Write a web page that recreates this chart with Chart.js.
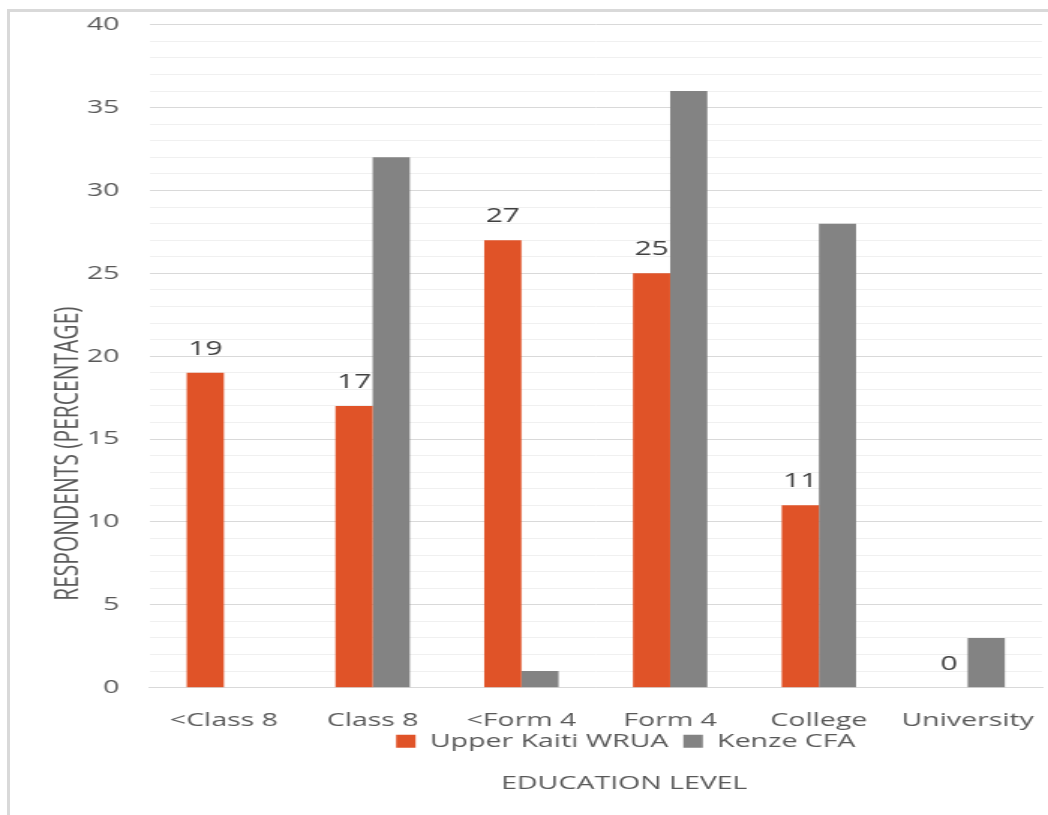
<!DOCTYPE html>
<html>
<head>
<meta charset="utf-8">
<title>Education level</title>
<script src="https://cdn.jsdelivr.net/npm/chart.js@4/dist/chart.umd.min.js"></script>
<style>
    html, body { margin: 0; padding: 0; background: #fff; overflow: hidden; }
    /* the reference picture is stretched sideways, so the canvas is too */
    #wrap { position: absolute; left: 0; top: 0; width: 699px; height: 815px;
            transform: scale(1.4993, 1); transform-origin: 0 0; }
    #chart { width: 699px; height: 815px; }
    #frame { position: absolute; left: 7px; top: 9px; width: 1041px; height: 806px;
             border-top: 3px solid #d9d9d9; border-left: 3px solid #d9d9d9; pointer-events: none; }
</style>
</head>
<body>
<div id="wrap"><canvas id="chart" width="699" height="815"></canvas></div>
<div id="frame"></div>
<script>
var categories = ['<Class 8', 'Class 8', '<Form 4', 'Form 4', 'College', 'University'];
var upperKaiti = [19, 17, 27, 25, 11, 0];
var kenzeCfa = [0, 32, 1, 36, 28, 3];
var seriesNames = ['Upper Kaiti WRUA', 'Kenze CFA'];
var yMin = 0, yMax = 40, yMajorStep = 5, yMinorStep = 1;
var yTitle = 'RESPONDENTS (PERCENTAGE)';
var xTitle = 'EDUCATION LEVEL';

Chart.defaults.font.family = "'Open Sans', sans-serif";

// value labels above the orange bars only
var valueLabels = {
    id: 'valueLabels',
    afterDatasetsDraw: function (chart) {
        var ctx = chart.ctx;
        var meta = chart.getDatasetMeta(0);
        ctx.save();
        ctx.font = "20px 'Open Sans', sans-serif";
        ctx.fillStyle = '#404040';
        ctx.textAlign = 'center';
        ctx.textBaseline = 'alphabetic';
        meta.data.forEach(function (bar, i) {
            ctx.fillText(String(chart.data.datasets[0].data[i]), bar.x, bar.y - 18);
        });
        ctx.restore();
    }
};

// y title sits lower than the axis middle in the reference
var yTitlePlugin = {
    id: 'yTitlePlugin',
    afterDraw: function (chart) {
        var ctx = chart.ctx;
        var area = chart.chartArea;
        ctx.save();
        ctx.translate(46, area.top + (area.bottom - area.top) * 0.647);
        ctx.rotate(-Math.PI / 2);
        ctx.font = "21px 'Open Sans', sans-serif";
        ctx.fillStyle = '#595959';
        ctx.textAlign = 'center';
        ctx.textBaseline = 'middle';
        ctx.fillText(yTitle, 0, 0);
        ctx.restore();
    }
};

// the legend hugs the category labels and both bottom texts sit right of centre in the reference
var bottomNudge = {
    id: 'bottomNudge',
    afterLayout: function (chart) {
        var lg = chart.legend;
        if (lg) {
            lg.top -= 19;
            lg.bottom -= 19;
            lg.left += 20;
            lg.right += 20;
        }
        var tb = chart.titleBlock;
        if (tb) {
            tb.left += 19;
            tb.right += 19;
        }
    }
};

new Chart(document.getElementById('chart'), {
    type: 'bar',
    data: {
        labels: categories,
        datasets: [
            {
                label: seriesNames[0],
                data: upperKaiti,
                backgroundColor: '#e05328'
            },
            {
                label: seriesNames[1],
                data: kenzeCfa,
                backgroundColor: '#838383'
            }
        ]
    },
    options: {
        responsive: false,
        animation: false,
        devicePixelRatio: 1,
        layout: {
            padding: { top: 0, left: 38, right: 4, bottom: 27 }
        },
        datasets: {
            bar: {
                categoryPercentage: 0.5,
                barPercentage: 1.0,
                borderWidth: 0
            }
        },
        scales: {
            x: {
                grid: { display: false, drawTicks: false },
                border: { color: '#d9d9d9', width: 1 },
                ticks: {
                    color: '#595959',
                    font: { size: 19, lineHeight: 2.63 },
                    padding: 8,
                    maxRotation: 0
                },
                afterFit: function (scale) {
                    scale.height -= 13;
                }
            },
            y: {
                min: yMin,
                max: yMax,
                border: { display: false },
                grid: {
                    drawTicks: false,
                    color: function (context) {
                        return context.tick.value % yMajorStep === 0 ? '#d9d9d9' : '#f0f0f0';
                    }
                },
                ticks: {
                    stepSize: yMinorStep,
                    color: '#595959',
                    font: { size: 19, lineHeight: 0.5 },
                    padding: 20,
                    autoSkip: false,
                    callback: function (value) {
                        return value % yMajorStep === 0 ? value : '';
                    }
                }
            }
        },
        plugins: {
            legend: {
                position: 'bottom',
                fullSize: false,
                labels: {
                    color: '#595959',
                    font: { size: 19 },
                    boxWidth: 13,
                    boxHeight: 13,
                    padding: 10
                }
            },
            title: {
                display: true,
                text: xTitle,
                position: 'bottom',
                fullSize: false,
                color: '#595959',
                font: { size: 19, weight: 'normal', lineHeight: 0.44 },
                padding: { top: 0, bottom: 0 }
            },
            tooltip: { enabled: false }
        }
    },
    plugins: [valueLabels, yTitlePlugin, bottomNudge]
});
</script>
</body>
</html>
